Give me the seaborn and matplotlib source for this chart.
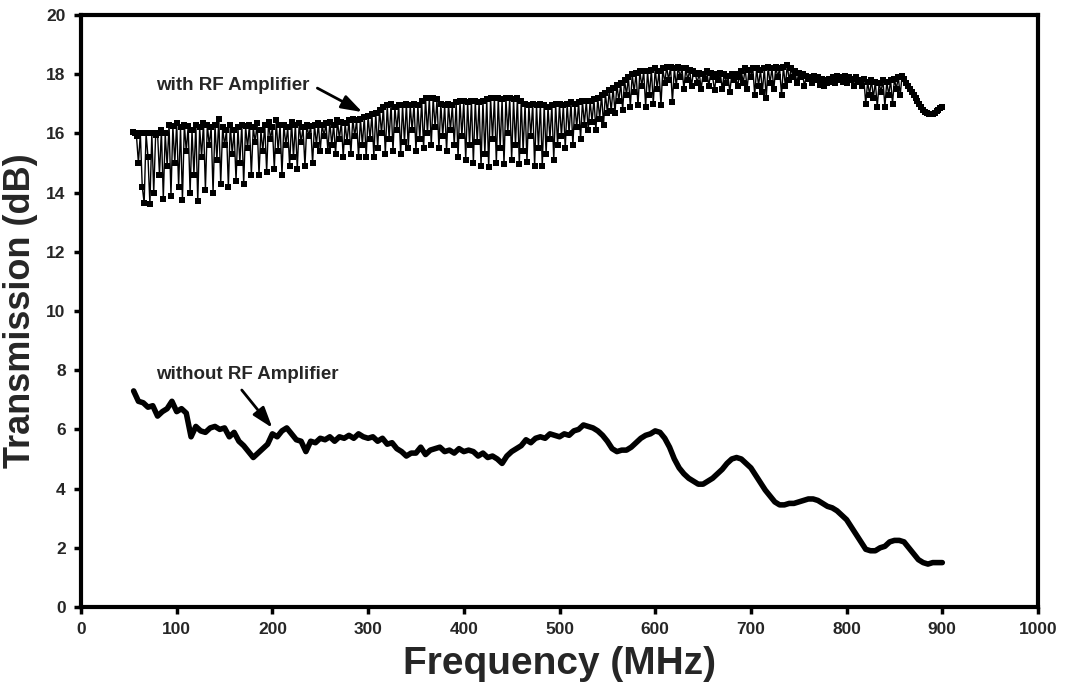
import numpy as np
import pandas as pd
import matplotlib
matplotlib.use("Agg")
import matplotlib.pyplot as plt
import seaborn as sns

# ---------------- data ----------------
# with RF amplifier: frequency grid 54..900 MHz, step 2 MHz
amp_freq = list(range(54, 901, 2))
amp_db = [
    16.05, 16.0, 15.9, 15.0, 16.0, 14.2, 13.65, 16.0, 15.2, 13.6,
    16.0, 14.0, 15.95, 16.0, 14.6, 16.1, 13.8, 16.0, 14.9, 16.3,
    13.9, 16.25, 15.0, 16.35, 14.2, 16.2, 13.75, 16.3, 15.4, 16.25,
    14.0, 16.1, 14.6, 16.3, 13.7, 16.2, 15.2, 16.35, 14.1, 16.3,
    15.6, 16.2, 14.0, 16.3, 15.1, 16.5, 14.3, 16.2, 15.6, 16.1,
    14.2, 16.3, 15.3, 16.1, 14.4, 16.2, 15.0, 16.3, 14.3, 16.25,
    15.5, 16.3, 14.6, 16.2, 15.7, 16.35, 14.6, 16.1, 15.4, 16.3,
    14.7, 16.4, 15.8, 16.2, 14.8, 16.45, 15.4, 16.3, 14.6, 16.3,
    15.6, 16.2, 14.9, 16.4, 15.2, 16.3, 14.8, 16.35, 15.7, 16.2,
    14.9, 16.3, 15.9, 16.25, 15.0, 16.3, 15.6, 16.35, 15.4, 16.3,
    15.9, 16.35, 15.4, 16.4, 15.6, 16.3, 15.3, 16.45, 15.8, 16.4,
    15.2, 16.35, 15.7, 16.45, 15.3, 16.5, 15.9, 16.45, 15.2, 16.5,
    15.6, 16.55, 15.2, 16.6, 15.8, 16.65, 15.2, 16.7, 15.5, 16.8,
    16.0, 16.9, 15.3, 16.95, 15.8, 17.0, 15.4, 16.9, 16.1, 16.95,
    15.3, 16.95, 15.7, 17.0, 15.5, 16.95, 16.1, 17.0, 15.4, 16.95,
    15.8, 17.1, 15.5, 17.2, 16.0, 17.2, 15.6, 17.2, 16.2, 17.15,
    15.5, 17.0, 15.9, 16.95, 15.4, 17.0, 16.1, 16.95, 15.6, 17.05,
    15.2, 17.1, 15.9, 17.1, 15.1, 17.05, 15.6, 17.1, 15.0, 17.1,
    15.7, 17.05, 14.9, 17.1, 15.3, 17.15, 14.85, 17.2, 15.8, 17.2,
    15.0, 17.2, 15.5, 17.15, 14.95, 17.2, 16.0, 17.2, 15.1, 17.15,
    15.6, 17.2, 14.95, 17.1, 15.4, 17.0, 15.05, 16.95, 15.9, 17.0,
    14.9, 16.95, 15.5, 17.0, 14.9, 16.95, 15.3, 16.9, 15.8, 16.95,
    15.1, 17.0, 15.6, 17.0, 15.9, 16.95, 15.5, 17.0, 16.0, 17.05,
    15.6, 17.0, 16.2, 17.05, 15.8, 17.1, 16.3, 17.1, 16.1, 17.1,
    16.4, 17.15, 16.1, 17.2, 16.5, 17.3, 16.3, 17.35, 16.7, 17.45,
    16.75, 17.55, 16.7, 17.65, 17.1, 17.7, 16.8, 17.8, 17.3, 17.9,
    16.9, 18.0, 17.4, 18.05, 16.95, 18.1, 17.6, 18.1, 16.9, 18.1,
    17.3, 18.15, 17.0, 18.2, 17.5, 18.1, 16.95, 18.2, 17.7, 18.25,
    17.8, 18.25, 17.05, 18.2, 17.6, 18.25, 17.9, 18.2, 17.5, 18.2,
    17.8, 18.15, 17.6, 18.1, 18.0, 17.7, 18.05, 17.5, 18.0, 17.85,
    18.1, 17.6, 18.05, 17.9, 17.45, 18.0, 17.8, 18.05, 17.5, 18.0,
    17.7, 17.95, 17.4, 18.0, 17.8, 18.0, 17.6, 17.9, 18.1, 17.7,
    18.2, 17.5, 18.15, 17.9, 18.2, 17.3, 18.2, 17.6, 18.15, 17.4,
    18.2, 17.2, 18.25, 17.7, 18.2, 17.5, 18.25, 17.9, 18.2, 17.3,
    18.25, 17.6, 18.3, 17.8, 18.2, 17.9, 18.1, 17.7, 18.05, 17.9,
    18.0, 17.6, 17.95, 17.85, 17.9, 17.7, 17.95, 17.8, 17.9, 17.65,
    17.85, 17.6, 17.8, 17.7, 17.85, 17.75, 17.9, 17.7, 17.95, 17.8,
    17.9, 17.75, 17.95, 17.7, 17.9, 17.8, 17.85, 17.6, 17.9, 17.75,
    17.8, 17.6, 17.85, 17.0, 17.75, 17.3, 17.8, 17.2, 17.75, 16.9,
    17.7, 17.4, 17.8, 16.9, 17.75, 17.3, 17.8, 17.0, 17.85, 17.5,
    17.9, 17.3, 17.95, 17.85, 17.7, 17.6, 17.5, 17.4, 17.3, 17.2,
    17.1, 17.0, 16.9, 16.8, 16.72, 16.68, 16.65, 16.65, 16.67, 16.7,
    16.75, 16.8, 16.85, 16.9,
]

# without RF amplifier: frequency grid 55..900 MHz, step 5 MHz
noamp_freq = list(range(55, 901, 5))
noamp_db = [
    7.3, 6.95, 6.9, 6.75, 6.8, 6.45, 6.6, 6.7, 6.95, 6.6,
    6.7, 6.55, 5.75, 6.1, 5.95, 5.9, 6.05, 6.1, 6.0, 6.05,
    5.75, 5.9, 5.6, 5.45, 5.25, 5.05, 5.2, 5.35, 5.5, 5.85,
    5.75, 5.95, 6.05, 5.85, 5.65, 5.6, 5.25, 5.6, 5.55, 5.7,
    5.65, 5.75, 5.6, 5.75, 5.7, 5.8, 5.7, 5.85, 5.75, 5.7,
    5.75, 5.6, 5.7, 5.5, 5.55, 5.35, 5.25, 5.1, 5.2, 5.2,
    5.4, 5.15, 5.3, 5.35, 5.4, 5.25, 5.3, 5.2, 5.35, 5.25,
    5.3, 5.25, 5.1, 5.2, 5.05, 5.1, 5.0, 4.85, 5.1, 5.25,
    5.35, 5.45, 5.65, 5.55, 5.7, 5.75, 5.7, 5.85, 5.8, 5.75,
    5.85, 5.8, 5.95, 6.0, 6.15, 6.1, 6.05, 5.95, 5.8, 5.6,
    5.35, 5.25, 5.3, 5.3, 5.4, 5.55, 5.7, 5.8, 5.85, 5.95,
    5.9, 5.7, 5.4, 5.0, 4.7, 4.5, 4.35, 4.25, 4.15, 4.15,
    4.25, 4.35, 4.5, 4.65, 4.85, 5.0, 5.05, 5.0, 4.85, 4.7,
    4.45, 4.2, 3.95, 3.75, 3.55, 3.45, 3.45, 3.5, 3.5, 3.55,
    3.6, 3.65, 3.65, 3.6, 3.5, 3.4, 3.35, 3.25, 3.1, 2.95,
    2.7, 2.45, 2.2, 1.95, 1.9, 1.9, 2.0, 2.05, 2.2, 2.25,
    2.25, 2.2, 2.0, 1.8, 1.6, 1.5, 1.45, 1.5, 1.5, 1.5,
]

x_ticks = list(range(0, 1001, 100))
y_ticks = list(range(0, 21, 2))

label_amp = "with RF Amplifier"
label_noamp = "without RF Amplifier"

# ---------------- style ----------------
sns.set_theme(style="white")
plt.rcParams["font.family"] = ["Liberation Sans", "DejaVu Sans"]
plt.rcParams["font.weight"] = "bold"

fig = plt.figure(figsize=(10.65, 6.9), dpi=100)
ax = fig.add_axes([81 / 1065, 83 / 690, 957 / 1065, 592 / 690])

df_amp = pd.DataFrame({"f": amp_freq, "t": amp_db})
df_noamp = pd.DataFrame({"f": noamp_freq, "t": noamp_db})

sns.lineplot(data=df_amp, x="f", y="t", ax=ax, color="black", linewidth=1.0,
             marker="s", markersize=4.0, markeredgewidth=0, estimator=None, sort=False)
sns.lineplot(data=df_noamp, x="f", y="t", ax=ax, color="black", linewidth=4.0,
             estimator=None, sort=False, solid_capstyle="round", solid_joinstyle="round")

ax.set_xlim(0, 1000)
ax.set_ylim(0, 20)
ax.set_xticks(x_ticks)
ax.set_yticks(y_ticks)
ax.set_xticklabels([str(v) for v in x_ticks], fontsize=12.5, fontweight="bold")
ax.set_yticklabels([str(v) for v in y_ticks], fontsize=12.5, fontweight="bold")
ax.tick_params(axis="both", direction="out", length=5, width=2.5, color="black",
               pad=6, bottom=True, left=True)

for sp in ax.spines.values():
    sp.set_visible(True)
    sp.set_color("black")
    sp.set_linewidth(3)

ax.set_xlabel("Frequency (MHz)", fontsize=28, fontweight="bold", labelpad=6)
ax.set_ylabel("Transmission (dB)", fontsize=26, fontweight="bold", labelpad=6)

arrow_kw = dict(arrowstyle="-|>,head_length=0.9,head_width=0.3", color="black",
                lw=2, mutation_scale=14, shrinkA=0, shrinkB=0)
ax.text(78, 17.63, label_amp, ha="left", va="center", fontsize=13.5, fontweight="bold")
ax.annotate("", xy=(294, 16.72), xytext=(247, 17.53), arrowprops=arrow_kw)
ax.text(78, 7.85, label_noamp, ha="left", va="center", fontsize=13.5, fontweight="bold")
ax.annotate("", xy=(200, 6.05), xytext=(168, 7.33), arrowprops=arrow_kw)

ax.grid(False)
fig.savefig("out.png", dpi=100)
